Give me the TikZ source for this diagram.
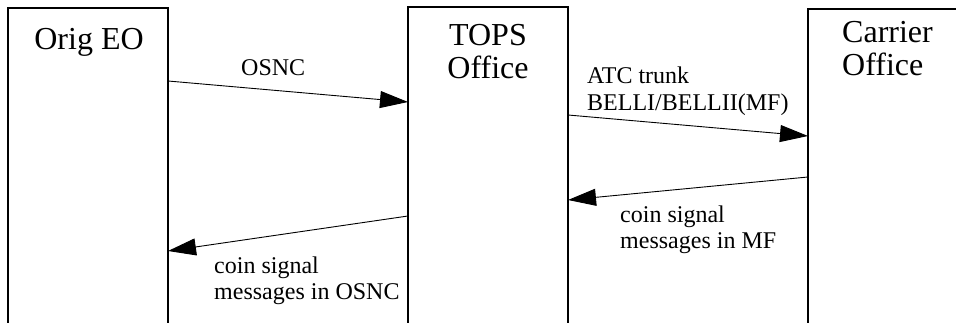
\documentclass[tikz,border=0pt]{standalone}
\usepackage{fontspec}
\setmainfont{Liberation Serif}
\usepackage{tikz}
\usetikzlibrary{arrows.meta, positioning, calc}
\tikzstyle{arrow} = [line width=0.9pt, -{Triangle[length=28pt,width=17pt]}]
\tikzstyle{line} = [line width=1.1pt, -]

\begin{document}
\begin{tikzpicture}[
    x=1pt, y=-1pt,
    office/.style={rectangle, inner sep=0pt, outer sep=0pt},
    title/.style={font=\fontsize{32}{33}\selectfont, align=center, inner sep=0pt},
    msg/.style={font=\fontsize{24}{26.5}\selectfont, align=left, inner sep=0pt}
]
    \useasboundingbox (0,0) rectangle (956,323);

    \node[office, minimum width=160pt, minimum height=315pt] (eo) at (88,165.5) {};
    \node[office, minimum width=160pt, minimum height=316pt] (tops) at (488,165) {};
    \node[office, minimum width=148pt, minimum height=314pt] (carrier) at (882,166) {};

    \draw[line] (eo.south west) |- (eo.north east) -- (eo.south east);
    \draw[line] (tops.south west) |- (tops.north east) -- (tops.south east);
    \draw[line] (carrier.south west) |- (carrier.north east);

    \node[title, anchor=base] (eotext) at (89,50) {Orig EO};
    \node[title, anchor=north] (topstext) at (488,24) {TOPS\\Office};
    \node[title, anchor=north west, align=left] (carriertext) at (842,21) {Carrier\\Office};

    \node[msg, anchor=base west] (osnc) at (241,76) {OSNC};
    \node[msg, anchor=north west] (atc) at (587,67) {ATC trunk\\BELLI/BELLII(MF)};
    \node[msg, anchor=north west] (coinmf) at (620,205.5) {coin signal\\messages in MF};
    \node[msg, anchor=north west] (coinosnc) at (214,256.5) {coin signal\\messages in OSNC};

    \draw[arrow] ([yshift=-73pt]eo.north east) -- ([yshift=-95pt]tops.north west);
    \draw[arrow] ([yshift=-108pt]tops.north east) -- ([yshift=-127pt]carrier.north west);
    \draw[arrow] ([yshift=-168pt]carrier.north west) -- ([yshift=-193pt]tops.north east);
    \draw[arrow] ([yshift=-209pt]tops.north west) -- ([yshift=-243pt]eo.north east);
\end{tikzpicture}
\end{document}
